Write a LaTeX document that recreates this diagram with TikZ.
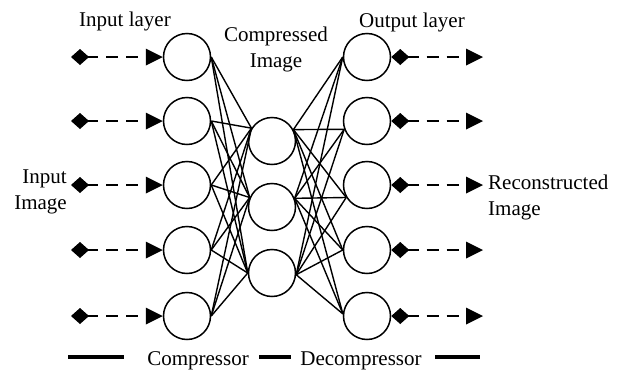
\documentclass[tikz,border=0pt]{standalone}
\usepackage{fontspec}
\setmainfont{Liberation Serif}
\usetikzlibrary{arrows.meta}
\begin{document}
\begin{tikzpicture}[x=1pt,y=-1pt,
  neuron/.style={draw,circle,line width=1.5pt,minimum size=47pt,inner sep=0pt},
  link/.style={line width=1.4pt},
  flow/.style={line width=2.6pt,dash pattern=on 12pt off 8pt,
    {Diamond[length=18pt,width=16pt,line width=0pt]}-{Triangle[length=17pt,width=17pt,line width=0pt]}},
  lbl/.style={font=\fontsize{21}{26}\selectfont,inner sep=0pt},
  bar/.style={line width=3.8pt}]
\useasboundingbox (0,0) rectangle (625,370);
% input layer
\foreach \i/\y in {1/57,2/121,3/185,4/250,5/316}{
  \node[neuron] (i\i) at (187,\y) {};
  \coordinate (s\i) at (71,\y);
  \draw[flow] (s\i) -- (i\i.west);
}
% compressed layer
\node[neuron] (m1) at (272,141) {};
\node[neuron] (m2) at (272,207) {};
\node[neuron] (m3) at (272,273) {};
% output layer
\foreach \i/\y in {1/57,2/121,3/185,4/250,5/316}{
  \node[neuron] (o\i) at (367,\y) {};
  \coordinate (e\i) at (483,\y);
  \draw[flow] (o\i.east) -- (e\i);
}
% compressor links
\foreach \i in {1,...,5}{
  \draw[link] (i\i.east) -- (m1.148);
  \draw[link] (i\i.east) -- (m2.157);
  \draw[link] (i\i.east) -- (m3.west);
}
% decompressor links
\foreach \m/\a in {1/28,2/21,3/-4}{
  \draw[link] (m\m.\a) -- (o1.west);
  \draw[link] (m\m.\a) -- (o2.200);
  \draw[link] (m\m.\a) -- (o3.211);
  \draw[link] (m\m.\a) -- (o4.west);
  \draw[link] (m\m.\a) -- (o5.175);
}
% labels
\node[lbl,anchor=base] (tin) at (125,26) {Input layer};
\node[lbl,anchor=base,align=center] (tcomp) at (276,67) {Compressed\\Image};
\node[lbl,anchor=base] (tout) at (412,27) {Output layer};
\node[lbl,anchor=base east,align=right] (tii) at (67,209) {Input\\Image};
\node[lbl,anchor=base west,align=left] (tre) at (488,215) {Reconstructed\\Image};
\node[lbl,anchor=base] (tc) at (198,365) {Compressor};
\node[lbl,anchor=base] (td) at (361,365) {Decompressor};
% bottom bars
\coordinate (b1a) at (68,357); \coordinate (b1b) at (124,357);
\coordinate (b2a) at (259,357); \coordinate (b2b) at (291,357);
\coordinate (b3a) at (435,357); \coordinate (b3b) at (480,357);
\draw[bar] (b1a) -- (b1b);
\draw[bar] (b2a) -- (b2b);
\draw[bar] (b3a) -- (b3b);
\end{tikzpicture}
\end{document}
